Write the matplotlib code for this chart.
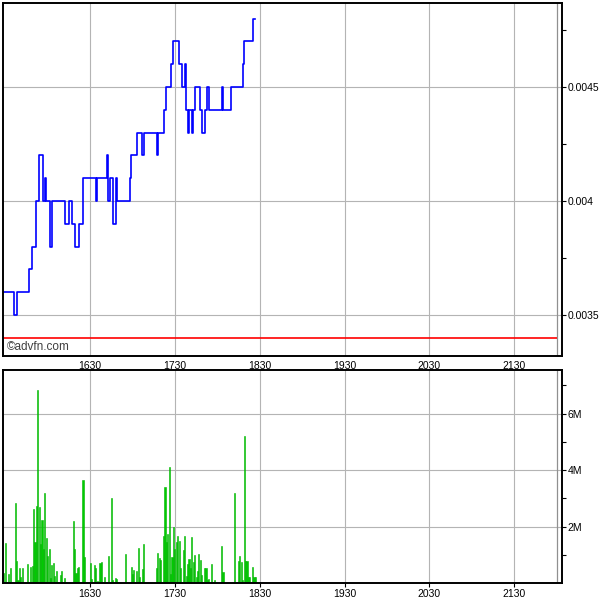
import numpy as np
import matplotlib.pyplot as plt
from matplotlib.ticker import MultipleLocator, FixedLocator

# minutes after 15:29
price_times = [-1, 7, 9, 18, 20, 23, 25, 28, 29, 30, 33, 34, 43, 46, 48, 50, 53, 56,
               65, 66, 73, 74, 75, 77, 79, 80, 89, 90, 94, 98, 99, 108, 109, 113, 115,
               118, 120, 124, 126, 128, 129, 130, 131, 133, 134, 135, 139, 140, 142, 144,
               145, 154, 155, 161, 169, 170, 176, 178]
price_vals = [0.0036, 0.0035, 0.0036, 0.0037, 0.0038, 0.0040, 0.0042, 0.0040, 0.0041, 0.0040,
              0.0038, 0.0040, 0.0039, 0.0040, 0.0039, 0.0038, 0.0039, 0.0041,
              0.0040, 0.0041, 0.0042, 0.0040, 0.0041, 0.0039, 0.0041, 0.0040, 0.0041, 0.0042,
              0.0043, 0.0042, 0.0043, 0.0042, 0.0043, 0.0044, 0.0045,
              0.0046, 0.0047, 0.0046, 0.0045, 0.0046, 0.0044, 0.0043, 0.0044, 0.0043, 0.0044,
              0.0045, 0.0044, 0.0043, 0.0044, 0.0045,
              0.0044, 0.0045, 0.0044, 0.0045, 0.0046, 0.0047, 0.0048, 0.0048]

vol_times = [0, 1, 3, 5, 8, 9, 10, 11, 12, 13, 17, 19, 20, 21, 22, 23, 24, 25, 26, 27, 28,
             29, 30, 31, 32, 33, 34, 35, 36, 37, 40, 41, 43, 49, 50, 51, 52, 53, 56, 57,
             61, 62, 64, 65, 66, 68, 69, 71, 74, 76, 77, 79, 80, 86, 90, 91, 92, 94, 95,
             96, 98, 99, 108, 109, 110, 111, 113, 114, 115, 116, 117, 118, 119, 120, 121,
             122, 123, 124, 125, 127, 128, 129, 130, 131, 132, 133, 134, 135, 136, 137,
             138, 139, 140, 142, 143, 144, 145, 147, 149, 154, 155, 163, 166, 167, 168,
             169, 170, 171, 172, 173, 174, 176, 177, 178]
vol_vals = [0.36, 1.43, 0.32, 0.53, 2.82, 0.78, 0.10, 0.53, 0.22, 0.53, 0.67, 0.56, 0.60,
            2.61, 1.45, 2.72, 6.85, 2.68, 1.38, 2.22, 1.20, 3.18, 1.59, 0.95, 1.20, 0.18,
            0.64, 0.71, 0.25, 0.42, 0.28, 0.42, 0.18, 2.19, 1.20, 0.35, 0.53, 0.56, 3.64,
            0.92, 0.71, 0.14, 0.64, 0.53, 0.07, 0.71, 0.74, 0.21, 0.95, 3.00, 0.10, 0.18,
            0.14, 1.02, 0.56, 0.32, 0.46, 0.42, 1.24, 0.21, 0.49, 1.38, 0.53, 1.06, 0.88,
            0.81, 1.66, 3.39, 1.45, 1.73, 4.09, 0.32, 0.92, 1.98, 1.20, 1.45, 1.66, 1.48,
            0.53, 1.16, 1.66, 0.25, 0.67, 0.85, 0.53, 1.62, 0.74, 0.99, 0.21, 0.42, 1.02,
            0.81, 0.28, 0.53, 0.53, 0.10, 0.14, 0.67, 0.10, 1.31, 0.39, 3.18, 0.78, 0.95,
            0.74, 0.10, 5.22, 0.78, 0.78, 0.21, 0.21, 0.56, 0.21, 0.21]

prev_close = 0.0034
tick_labels = ['1630', '1730', '1830', '1930', '2030', '2130']

base = 15 * 60 + 29
px = [base + t for t in price_times]
vx = [base + t for t in vol_times]
vy = [v * 1e6 for v in vol_vals]
hour_ticks = [16 * 60 + 30 + 60 * i for i in range(len(tick_labels))]
close_time = 22 * 60
xmin, xmax = 928.4, 1324

plt.rcParams['font.family'] = ['Liberation Sans', 'DejaVu Sans']
fig = plt.figure(figsize=(6, 6), dpi=100)
ax1 = fig.add_axes([0.005, 0.4067, 0.932, 0.5883])
ax2 = fig.add_axes([0.005, 0.0283, 0.932, 0.355])

grid_c = '#b4b4b4'
for ax in (ax1, ax2):
    ax.set_xlim(xmin, xmax)
    ax.xaxis.set_major_locator(FixedLocator(hour_ticks))
    ax.grid(True, color=grid_c, linewidth=0.8)
    ax.axvline(close_time, color='#909090', linewidth=0.9)
    ax.yaxis.tick_right()
    ax.tick_params(axis='y', which='both', direction='out', length=3, width=0.8,
                   labelsize=7.5, pad=1)
    for s in ax.spines.values():
        s.set_linewidth(1.4)
    ax.set_axisbelow(True)

# price panel
ax1.plot(px, price_vals, color='#0000ff', linewidth=1.2, drawstyle='steps-post')
ax1.hlines(prev_close, xmin, close_time, color='#ff0000', linewidth=1.2)
ax1.set_ylim(0.00332, 0.004868)
ax1.yaxis.set_major_locator(FixedLocator([0.0035, 0.004, 0.0045]))
ax1.yaxis.set_minor_locator(FixedLocator([0.00375, 0.00425, 0.00475]))
ax1.set_yticklabels(['0.0035', '0.004', '0.0045'])
ax1.set_xticklabels(tick_labels)
ax1.tick_params(axis='x', length=0, labelsize=7.5, pad=3.5)
ax1.text(0.007, 0.008, '\u00a9advfn.com', transform=ax1.transAxes, fontsize=8.5,
         color='#404040', ha='left', va='bottom')

# volume panel
ax2.bar(vx, vy, width=0.8, color='#00cc00', edgecolor='#00b400', linewidth=0.4)
ax2.set_ylim(0, 7.54e6)
ax2.yaxis.set_major_locator(FixedLocator([2e6, 4e6, 6e6]))
ax2.yaxis.set_minor_locator(FixedLocator([1e6, 3e6, 5e6, 7e6]))
ax2.set_yticklabels(['2M', '4M', '6M'])
ax2.set_xticklabels(tick_labels)
ax2.tick_params(axis='x', which='both', direction='out', length=3, width=0.8,
                labelsize=7.5, pad=1)

fig.savefig('out.png', dpi=100)
